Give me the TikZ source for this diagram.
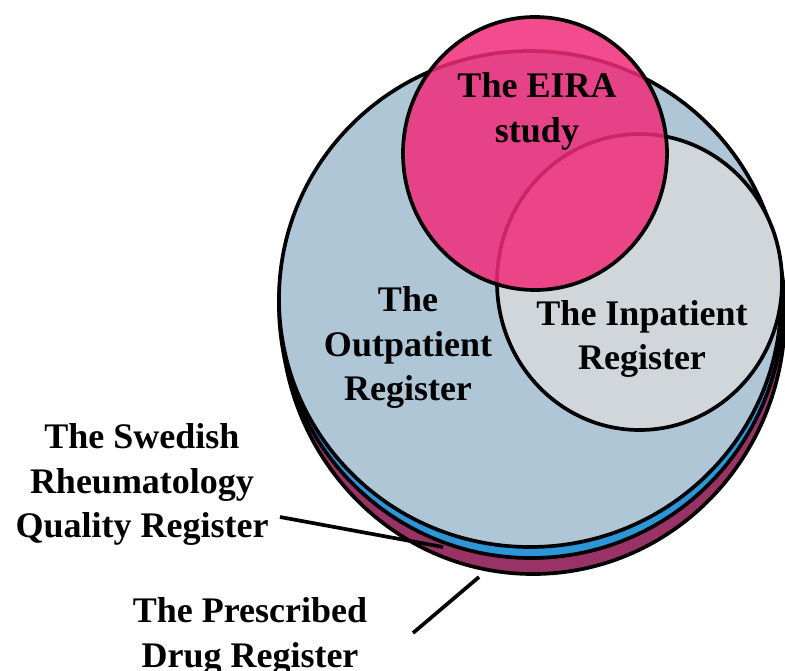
\documentclass[tikz,border=0pt]{standalone}
\usepackage{fontspec}
\setmainfont{Liberation Serif}
\usetikzlibrary{shapes.geometric}
\definecolor{drugc}{RGB}{153,51,102}
\definecolor{srqc}{RGB}{45,150,215}
\definecolor{outc}{RGB}{174,198,214}
\definecolor{inc}{RGB}{208,214,218}
\definecolor{eirac}{RGB}{240,44,122}
\tikzset{
  regcircle/.style={ellipse, draw=black, line width=3.7pt, inner sep=0pt},
  lab/.style={align=center, inner sep=0pt, font=\fontsize{36}{44.5}\selectfont\bfseries},
  leader/.style={draw=black, line width=3.7pt}
}
\begin{document}
\begin{tikzpicture}[x=1pt,y=-1pt]
\useasboundingbox (0,0) rectangle (785,670);
% register circles
\node[regcircle, fill=drugc, minimum width=504pt, minimum height=520pt] (drug) at (533,314) {};
\node[regcircle, fill=srqc, minimum width=504pt, minimum height=506pt] (srq) at (531,305) {};
\node[regcircle, fill=outc, minimum width=502pt, minimum height=496pt] (outp) at (530,299) {};
\node[regcircle, fill=inc, minimum width=285pt, minimum height=296pt] (inp) at (639.5,282) {};
\node[regcircle, fill=eirac, fill opacity=0.85, minimum width=264pt, minimum height=273pt] (eira) at (535,153.5) {};
% labels
\node[lab] (eiralab) at (537,111.6) {The EIRA\\study};
\node[lab] (outlab) at (408,347.5) {The\\Outpatient\\Register};
\node[lab] (inlab) at (642,339) {The Inpatient\\Register};
\node[lab] (srqlab) at (142,484.5) {The Swedish\\Rheumatology\\Quality Register};
\node[lab] (druglab) at (250,636.5) {The Prescribed\\Drug Register};
% leader lines
\coordinate (srqA) at (280,517);
\coordinate (srqB) at (443,547);
\coordinate (drugA) at (413,633);
\coordinate (drugB) at (479,577);
\draw[leader] (srqA) -- (srqB);
\draw[leader] (drugA) -- (drugB);
\end{tikzpicture}
\end{document}
